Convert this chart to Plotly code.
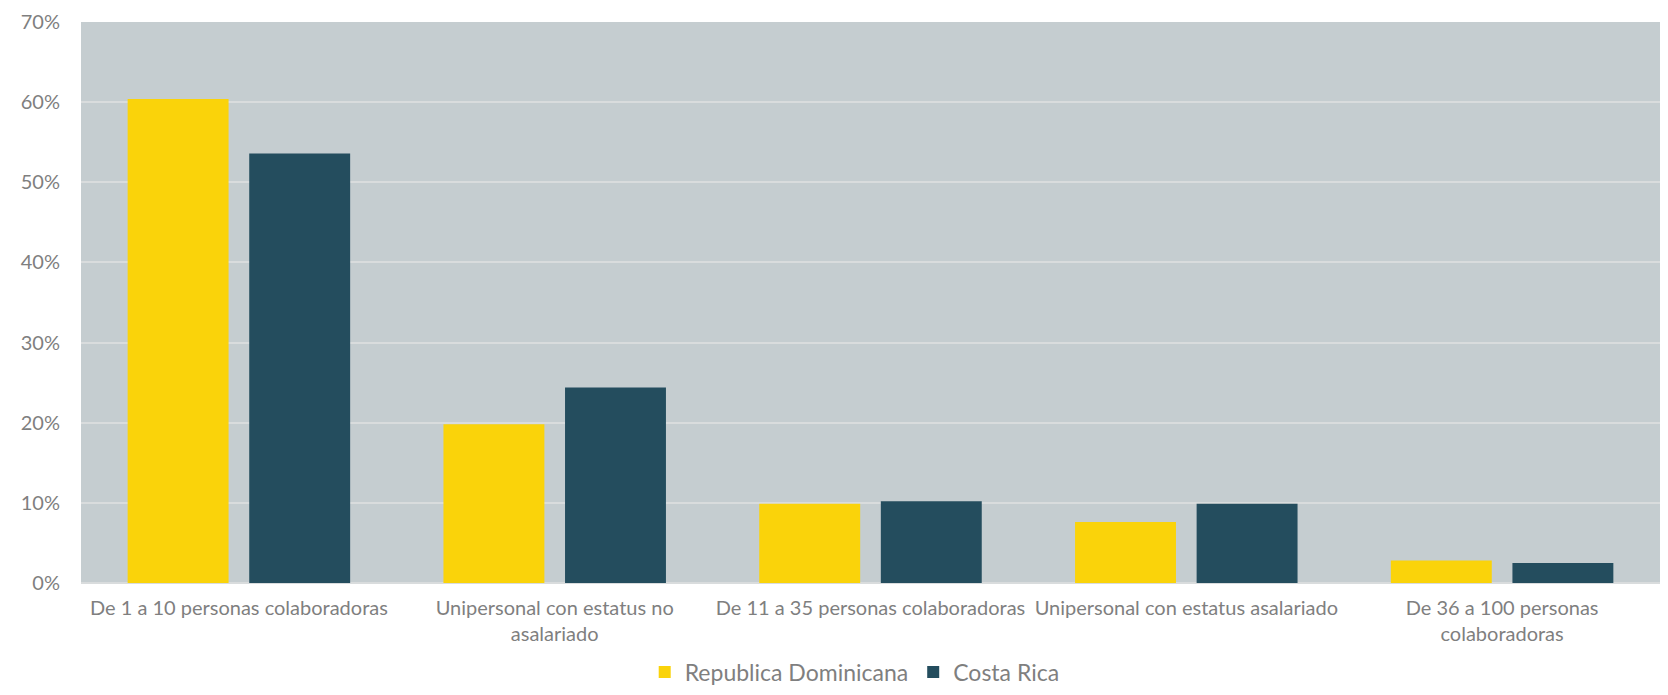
import plotly.graph_objects as go

categories = [
    "De 1 a 10 personas colaboradoras",
    "Unipersonal con estatus no<br>asalariado",
    "De 11 a 35 personas colaboradoras",
    "Unipersonal con estatus asalariado",
    "De 36 a 100 personas<br>colaboradoras",
]
rep_dom = [0.604, 0.198, 0.099, 0.076, 0.028]
costa_rica = [0.536, 0.244, 0.102, 0.099, 0.025]
y_ticks = [0, 0.1, 0.2, 0.3, 0.4, 0.5, 0.6, 0.7]
y_labels = ["0%", "10%", "20%", "30%", "40%", "50%", "60%", "70%"]

fig = go.Figure()
fig.add_trace(go.Bar(x=categories, y=rep_dom, name="Republica Dominicana",
                     marker=dict(color="#FAD30A", line=dict(width=0))))
fig.add_trace(go.Bar(x=categories, y=costa_rica, name="Costa Rica",
                     marker=dict(color="#244D5E", line=dict(width=0))))

fig.update_layout(
    width=1652, height=679,
    barmode="group", bargap=0.23, bargroupgap=0.17,
    plot_bgcolor="#C5CDD0", paper_bgcolor="white",
    margin=dict(l=73, r=0, t=14, b=104, autoexpand=False),
    font=dict(family="Lato, 'DejaVu Sans', sans-serif", color="#7F7F7F"),
    legend=dict(orientation="h", xref="paper", yref="container",
                xanchor="center", x=0.49, yanchor="middle", y=0.022,
                font=dict(size=23, color="#7F7F7F"), itemsizing="constant",
                traceorder="normal"),
    showlegend=True,
)
fig.update_yaxes(range=[0, 0.7], tickvals=y_ticks, ticktext=y_labels,
                 showgrid=True, gridcolor="#D9DCDD", gridwidth=1.5,
                 zeroline=True, zerolinecolor="#D9DCDD", zerolinewidth=1.5,
                 tickfont=dict(size=20, color="#7F7F7F"), ticklabeloverflow="allow",
                 ticks="outside", ticklen=16, tickcolor="rgba(0,0,0,0)")
fig.update_xaxes(tickfont=dict(family="Lato, sans-serif", size=20, color="#7F7F7F"),
                 showline=False, ticks="outside", ticklen=7, tickcolor="rgba(0,0,0,0)")

fig.write_html("out.html")
